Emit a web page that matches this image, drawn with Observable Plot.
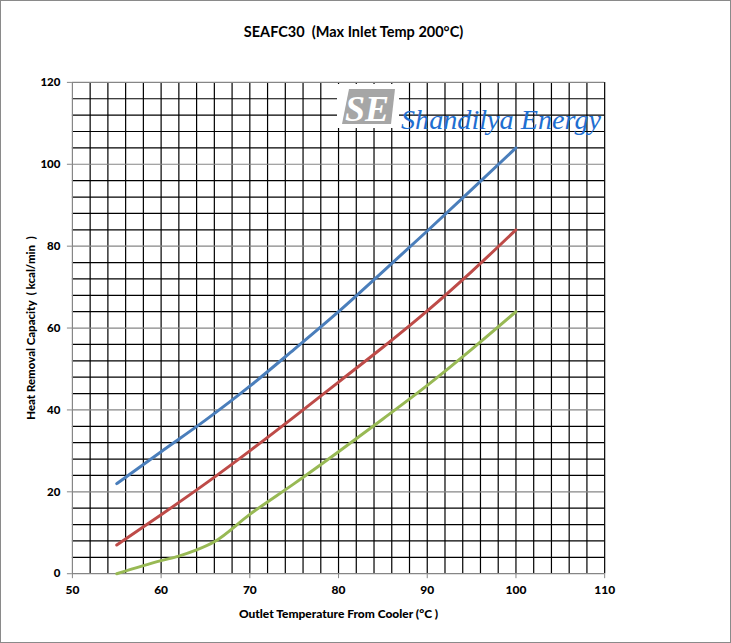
<!DOCTYPE html>
<html>
<head>
<meta charset="utf-8">
<script src="https://cdn.jsdelivr.net/npm/d3@7"></script>
<script src="https://cdn.jsdelivr.net/npm/@observablehq/plot@0.6"></script>
<style>
  html, body { margin: 0; padding: 0; background: #fff; }
  #wrap { position: relative; width: 731px; height: 643px; box-sizing: border-box; border: 1px solid #8a8a8a; overflow: hidden; font-family: Lato, "Open Sans", sans-serif; }
  #title { position: absolute; left: 0; width: 705px; top: 22px; text-align: center; font-weight: bold; font-size: 14.5px; white-space: pre; color: #000; }
  #chart { position: absolute; left: -1px; top: -1px; }
  #chart text, #chart tspan { font-weight: 900 !important; }
  #logo { position: absolute; left: 0; top: 0; pointer-events: none; }
</style>
</head>
<body>
<div id="wrap">
  <div id="chart"></div>
  <svg id="logo" width="731" height="643">
    <rect x="336" y="83" width="62" height="44" fill="#fff"></rect>
    <polygon points="348,88 394,88 390,123 341,123" fill="#a6a6a6"></polygon>
    <text x="366" y="120" text-anchor="middle" font-family="Liberation Serif, serif" font-weight="bold" font-style="italic" font-size="36" fill="#fff" textLength="44" lengthAdjust="spacingAndGlyphs">SE</text>
    <text x="400" y="128" font-family="Liberation Serif, serif" font-style="italic" font-size="28" fill="#1f6fd1" textLength="200" lengthAdjust="spacingAndGlyphs">Shandilya Energy</text>
  </svg>
  <div id="title">SEAFC30  (Max Inlet Temp 200°C)</div>
</div>
<script>
// ---- data ----
const temps = [55, 60, 65, 70, 75, 80, 85, 90, 95, 100];
const blueValues = [22, 29.8, 37.5, 45.8, 54.8, 64, 73.8, 83.7, 93.8, 104];
const redValues = [7, 14.4, 22, 30, 38.3, 46.8, 55.3, 64.2, 73.8, 84];
const greenTemps = [55, 60, 62, 64, 66, 70, 75, 80, 85, 90, 95, 100];
const greenValues = [0, 3.2, 4.3, 5.8, 7.8, 14.5, 22, 29.8, 37.8, 46, 54.8, 64];

const xTicks = [50, 60, 70, 80, 90, 100, 110];
const yTicks = [0, 20, 40, 60, 80, 100, 120];
const xGrid = d3.range(52, 111, 2);
const yMinorGrid = d3.range(4, 120, 4).filter(v => v % 20 !== 0);

const seriesColors = { blue: "#4a7ebb", red: "#be4b48", green: "#98b954" };

const toRows = (xs, ys) => xs.map((x, i) => ({ x, y: ys[i] }));
const blueRows = toRows(temps, blueValues);
const redRows = toRows(temps, redValues);
const greenRows = toRows(greenTemps, greenValues);

const chart = Plot.plot({
  width: 731,
  height: 643,
  marginLeft: 72,
  marginRight: 126,
  marginTop: 82,
  marginBottom: 69,
  style: { fontFamily: "Lato, 'Open Sans', sans-serif", fontWeight: "bold", fontSize: "12px", color: "#000", background: "transparent", overflow: "visible" },
  x: { domain: [50, 110] },
  y: { domain: [0, 120] },
  marks: [
    Plot.ruleX(xGrid, { stroke: "#000", strokeWidth: 1.2 }),
    Plot.ruleY(yMinorGrid, { stroke: "#000", strokeWidth: 1.2 }),
    Plot.ruleY(yTicks, { stroke: "#868686", strokeWidth: 1.2 }),
    Plot.ruleX([50], { stroke: "#868686", strokeWidth: 1.2 }),
    Plot.axisX({ ticks: xTicks, tickSize: 5, tickPadding: 7, stroke: "#868686", tickFormat: d => String(d), fill: "#000", fontWeight: "bold",
      label: "Outlet Temperature From Cooler (°C )", labelAnchor: "center", labelArrow: "none", labelOffset: 44, fontSize: 12 }),
    Plot.axisY({ ticks: yTicks, tickSize: 5, tickPadding: 7, stroke: "#868686", tickFormat: d => String(d), fill: "#000", fontWeight: "bold",
      label: "Heat Removal Capacity  ( kcal/min  )", labelAnchor: "center", labelArrow: "none", labelOffset: 46, fontSize: 11.5 }),
    Plot.line(blueRows, { x: "x", y: "y", stroke: seriesColors.blue, strokeWidth: 3, curve: "monotone-x" }),
    Plot.line(redRows, { x: "x", y: "y", stroke: seriesColors.red, strokeWidth: 3, curve: "monotone-x" }),
    Plot.line(greenRows, { x: "x", y: "y", stroke: seriesColors.green, strokeWidth: 3, curve: "monotone-x" })
  ]
});
document.getElementById("chart").appendChild(chart);
</script>
</body>
</html>
